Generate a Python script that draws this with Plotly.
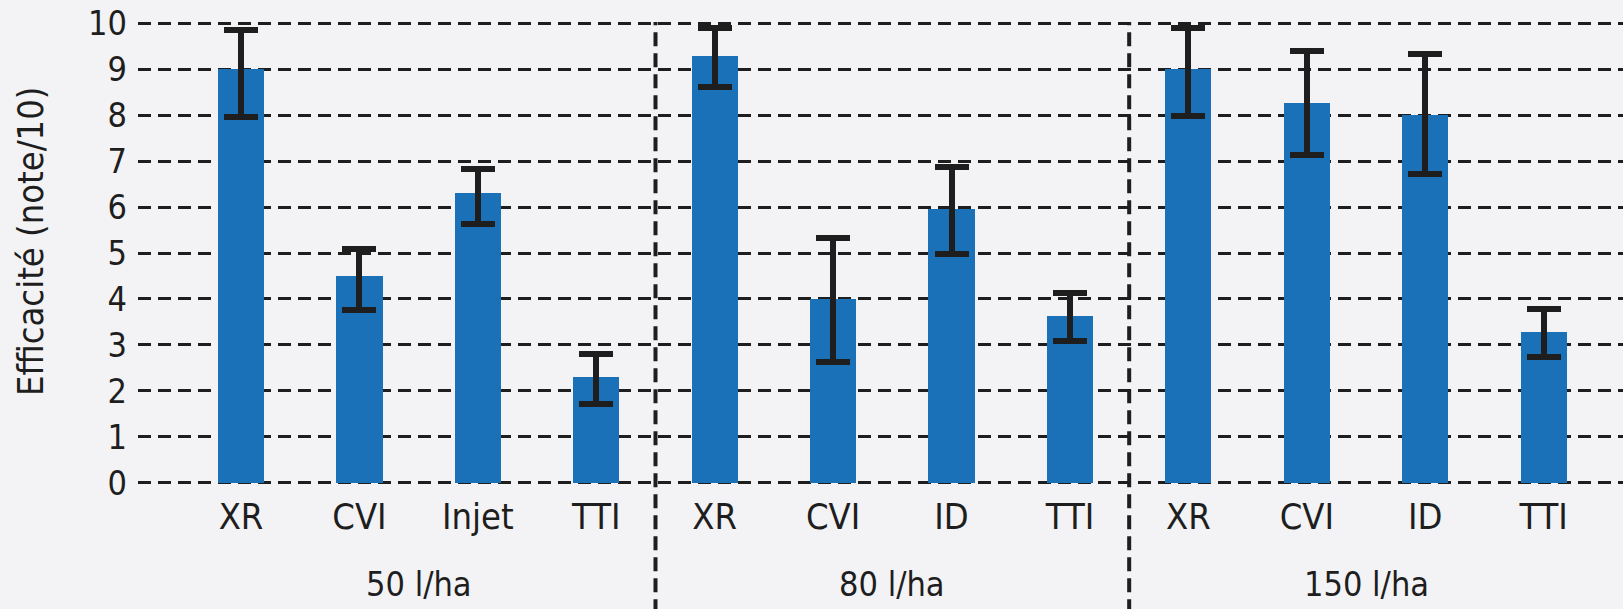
import plotly.graph_objects as go

# ---- data ----
categories = ["XR", "CVI", "Injet", "TTI", "XR", "CVI", "ID", "TTI", "XR", "CVI", "ID", "TTI"]
groups = ["50 l/ha", "80 l/ha", "150 l/ha"]
values = [9.0, 4.5, 6.3, 2.3, 9.3, 4.0, 5.95, 3.62, 9.0, 8.27, 8.0, 3.27]
err_plus = [0.86, 0.59, 0.53, 0.51, 0.59, 1.32, 0.93, 0.52, 0.89, 1.13, 1.33, 0.52]
err_minus = [1.04, 0.74, 0.67, 0.58, 0.68, 1.37, 0.97, 0.54, 1.02, 1.13, 1.28, 0.53]
y_ticks = [0, 1, 2, 3, 4, 5, 6, 7, 8, 9, 10]
y_title = "Efficacité (note/10)"

# ---- styling ----
BLUE = "#1b71b7"
DARK = "#1e1e1e"
BG = "#f3f3f5"
FONT = "DejaVu Sans Condensed, Roboto, sans-serif"

xpos = list(range(len(categories)))
per_group = len(categories) // len(groups)

fig = go.Figure()
fig.add_trace(go.Bar(
    x=xpos, y=values, width=0.39,
    marker=dict(color=BLUE, line=dict(width=0)),
    error_y=dict(type="data", symmetric=False, array=err_plus, arrayminus=err_minus,
                 color=DARK, thickness=6, width=17),
    showlegend=False, hoverinfo="skip",
))

# group dividers
for g in range(1, len(groups)):
    fig.add_shape(type="line", xref="x", yref="paper",
                  x0=g * per_group - 0.5, x1=g * per_group - 0.5, y0=-0.28, y1=1,
                  line=dict(color=DARK, width=4, dash="14px,7px"))

# group labels
for g, name in enumerate(groups):
    fig.add_annotation(x=g * per_group + (per_group - 1) / 2, y=-0.217, xref="x", yref="paper",
                       text=name, showarrow=False, xanchor="center", yanchor="middle",
                       font=dict(family=FONT, size=34, color=DARK))

# y axis title
fig.add_annotation(x=-0.072, y=0.526, xref="paper", yref="paper", text=y_title,
                   textangle=-90, showarrow=False, xanchor="center", yanchor="middle",
                   font=dict(family=FONT, size=36, color=DARK))

fig.update_layout(
    width=1623, height=609,
    margin=dict(l=138, r=0, t=22, b=125),
    paper_bgcolor=BG, plot_bgcolor=BG,
    bargap=0,
    xaxis=dict(range=[-0.87, 11.67], tickmode="array", tickvals=xpos, ticktext=categories,
               showgrid=False, zeroline=False, showline=False, ticks="",
               tickfont=dict(family=FONT, size=36, color=DARK), ticklabelstandoff=8),
    yaxis=dict(range=[-0.03, 10.03], tickmode="array", tickvals=y_ticks,
               showgrid=True, gridcolor=DARK, gridwidth=3, griddash="13px,7px",
               zeroline=False, showline=False, ticks="",
               tickfont=dict(family=FONT, size=34, color=DARK), ticklabelstandoff=10),
)

fig.write_html(
    "out.html",
    config={"displayModeBar": False},
    post_script="document.body.style.margin='0';document.body.style.overflow='hidden';"
                "document.body.style.background='" + BG + "';",
)
